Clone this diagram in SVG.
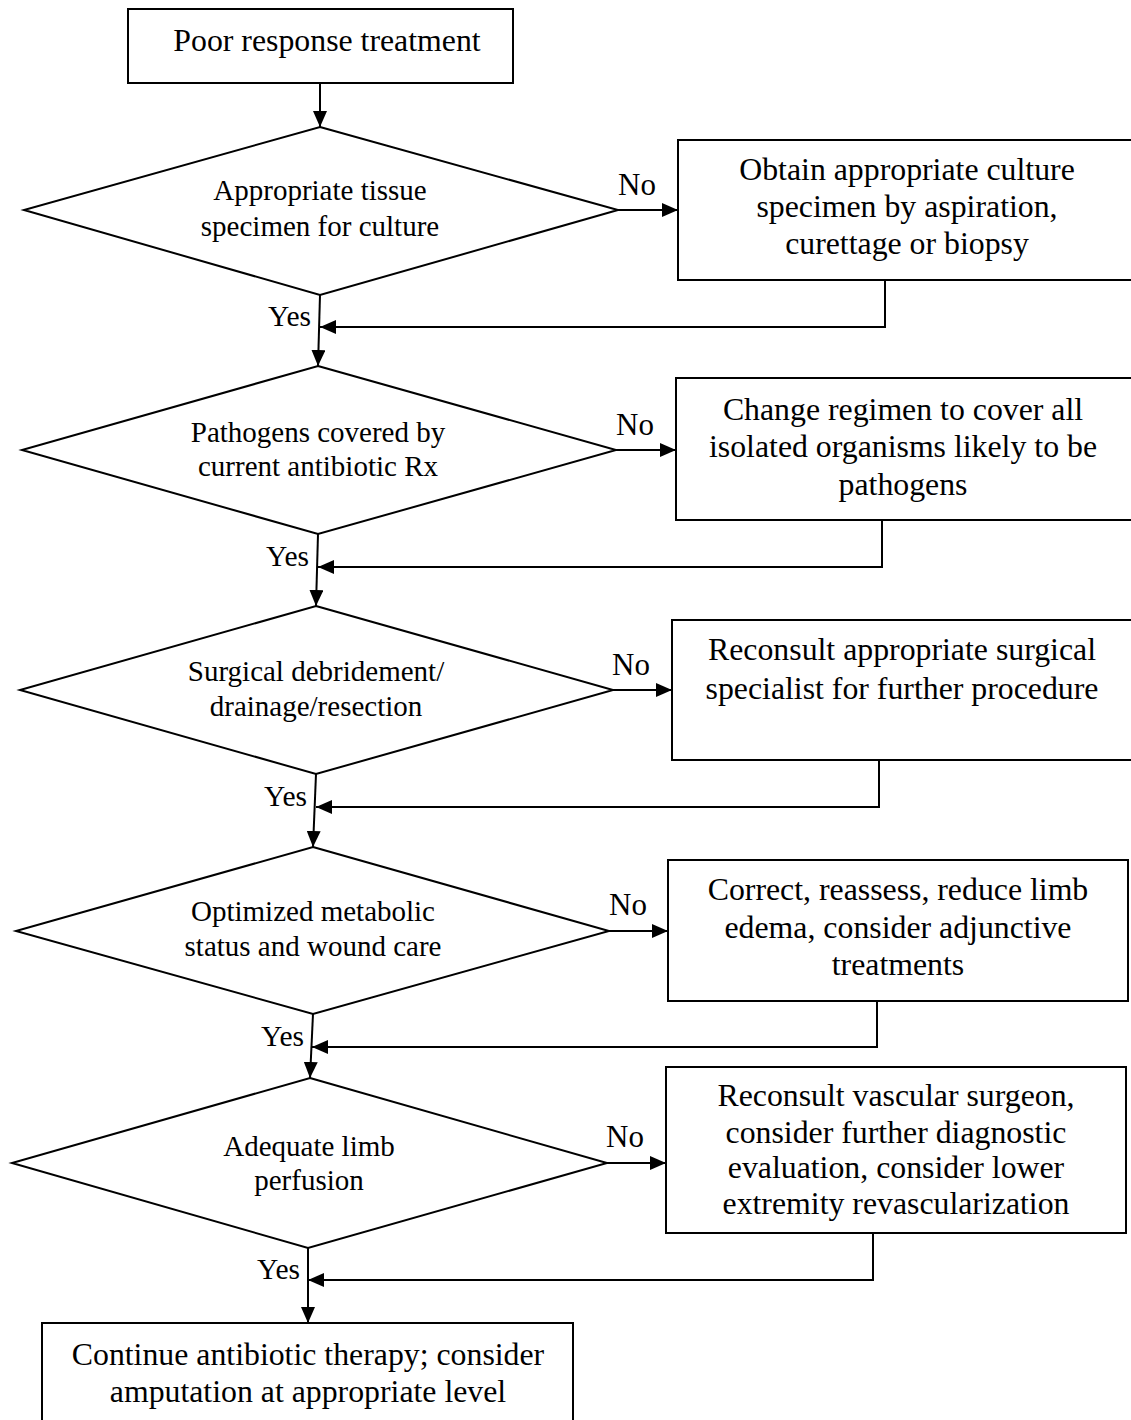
<svg xmlns="http://www.w3.org/2000/svg" width="1131" height="1420" viewBox="0 0 1131 1420">
<style>
  .shape { fill: #fff; stroke: #000; stroke-width: 2; }
  .conn { fill: none; stroke: #000; stroke-width: 2; }
  text { font-family: "Liberation Serif", "Times New Roman", serif; fill: #000; }
  .bt { font-size: 31.8px; text-anchor: middle; }
  .dt { font-size: 29px; text-anchor: middle; }
  .lbl { font-size: 31px; }
  .yes { text-anchor: end; font-size: 29.5px; }
</style>
<defs>
  <marker id="ah" markerUnits="userSpaceOnUse" markerWidth="17" markerHeight="14" refX="16" refY="7" orient="auto">
    <path d="M0,0 L16,7 L0,14 z" fill="#000"/>
  </marker>
</defs>
<rect width="1131" height="1420" fill="#fff"/>

<g id="connectors">
  <path class="conn" d="M320,83 L320,127" marker-end="url(#ah)"/>
  <path class="conn" d="M618,210 L678,210" marker-end="url(#ah)"/>
  <path class="conn" d="M320,295 L318,366" marker-end="url(#ah)"/>
  <path class="conn" d="M885,280 L885,327 L320,327" marker-end="url(#ah)"/>

  <path class="conn" d="M616,450 L676,450" marker-end="url(#ah)"/>
  <path class="conn" d="M318,534 L316,606" marker-end="url(#ah)"/>
  <path class="conn" d="M882,520 L882,567 L318,567" marker-end="url(#ah)"/>

  <path class="conn" d="M613,690 L672,690" marker-end="url(#ah)"/>
  <path class="conn" d="M316,774 L313,847" marker-end="url(#ah)"/>
  <path class="conn" d="M879,760 L879,807 L316,807" marker-end="url(#ah)"/>

  <path class="conn" d="M609,931 L668,931" marker-end="url(#ah)"/>
  <path class="conn" d="M313,1014 L310,1078" marker-end="url(#ah)"/>
  <path class="conn" d="M877,1001 L877,1047 L312,1047" marker-end="url(#ah)"/>

  <path class="conn" d="M607,1163 L666,1163" marker-end="url(#ah)"/>
  <path class="conn" d="M308,1248 L308,1323" marker-end="url(#ah)"/>
  <path class="conn" d="M873,1233 L873,1280 L308,1280" marker-end="url(#ah)"/>

  <text class="lbl" x="618" y="195">No</text>
  <text class="lbl" x="616" y="435">No</text>
  <text class="lbl" x="612" y="675">No</text>
  <text class="lbl" x="609" y="915">No</text>
  <text class="lbl" x="606" y="1147">No</text>

  <text class="lbl yes" x="311" y="326">Yes</text>
  <text class="lbl yes" x="309" y="566">Yes</text>
  <text class="lbl yes" x="307" y="806">Yes</text>
  <text class="lbl yes" x="304" y="1046">Yes</text>
  <text class="lbl yes" x="300" y="1279">Yes</text>
</g>

<g id="start">
  <rect class="shape" x="128" y="9" width="385" height="74"/>
  <text class="bt" x="327" y="51">Poor response treatment</text>
</g>

<g id="d1">
  <polygon class="shape" points="320,127 618,210 320,295 24,210"/>
  <text class="dt" x="320" y="200">Appropriate tissue</text>
  <text class="dt" x="320" y="236">specimen for culture</text>
</g>
<g id="b1">
  <rect class="shape" x="678" y="140" width="460" height="140"/>
  <text class="bt" x="907" y="180">Obtain appropriate culture</text>
  <text class="bt" x="907" y="217">specimen by aspiration,</text>
  <text class="bt" x="907" y="254">curettage or biopsy</text>
</g>

<g id="d2">
  <polygon class="shape" points="318,366 616,450 318,534 22,450"/>
  <text class="dt" x="318" y="442">Pathogens covered by</text>
  <text class="dt" x="318" y="476">current antibiotic Rx</text>
</g>
<g id="b2">
  <rect class="shape" x="676" y="378" width="460" height="142"/>
  <text class="bt" x="903" y="420">Change regimen to cover all</text>
  <text class="bt" x="903" y="457">isolated organisms likely to be</text>
  <text class="bt" x="903" y="495">pathogens</text>
</g>

<g id="d3">
  <polygon class="shape" points="316,606 613,690 316,774 20,690"/>
  <text class="dt" x="316" y="681">Surgical debridement/</text>
  <text class="dt" x="316" y="716">drainage/resection</text>
</g>
<g id="b3">
  <rect class="shape" x="672" y="620" width="460" height="140"/>
  <text class="bt" x="902" y="660">Reconsult appropriate surgical</text>
  <text class="bt" x="902" y="699">specialist for further procedure</text>
</g>

<g id="d4">
  <polygon class="shape" points="313,847 609,931 313,1014 16,931"/>
  <text class="dt" x="313" y="921">Optimized metabolic</text>
  <text class="dt" x="313" y="956">status and wound care</text>
</g>
<g id="b4">
  <rect class="shape" x="668" y="860" width="460" height="141"/>
  <text class="bt" x="898" y="900">Correct, reassess, reduce limb</text>
  <text class="bt" x="898" y="938">edema, consider adjunctive</text>
  <text class="bt" x="898" y="975">treatments</text>
</g>

<g id="d5">
  <polygon class="shape" points="310,1078 607,1163 308,1248 12,1163"/>
  <text class="dt" x="309" y="1156">Adequate limb</text>
  <text class="dt" x="309" y="1190">perfusion</text>
</g>
<g id="b5">
  <rect class="shape" x="666" y="1067" width="460" height="166"/>
  <text class="bt" x="896" y="1106">Reconsult vascular surgeon,</text>
  <text class="bt" x="896" y="1143">consider further diagnostic</text>
  <text class="bt" x="896" y="1178">evaluation, consider lower</text>
  <text class="bt" x="896" y="1214">extremity revascularization</text>
</g>

<g id="end">
  <rect class="shape" x="42" y="1323" width="531" height="120"/>
  <text class="bt" x="308" y="1365">Continue antibiotic therapy; consider</text>
  <text class="bt" x="308" y="1402">amputation at appropriate level</text>
</g>
</svg>
